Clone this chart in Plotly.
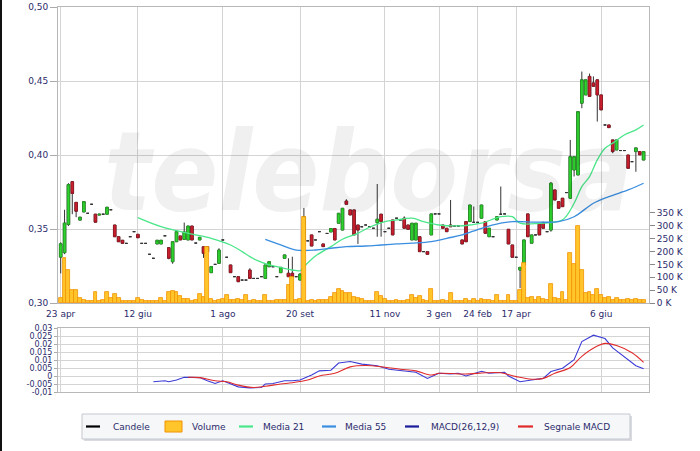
import plotly.graph_objects as go

# ---------------- data ----------------
opens = [.331, .334, .353, .382, .368, .356, .3615, .3606, .3667, .360,
         .3594, .360, .360, .363, .3527, .3448, .3424, .3403, .3448, .3482,
         .3464, .3403, .3403, .3329, .3302, .3399, .3399, .3454, .3374, .3279,
         .3414, .3453, .343, .3426, .352, .3405, .3426, .338, .338, .3205,
         .3261, .3268, .3426, .3309, .3257, .3178, .3178, .3155, .3155, .3223,
         .3166, .3166, .3178, .3166, .3245, .3245, .3178, .3205, .3302, .3201,
         .3201, .3178, .3155, .3426, .342, .346, .3426, .3482, .3399, .347,
         .348, .3503, .3539, .3493, .3689, .3629, .3629, .3527, .3515, .3527,
         .3515, .3505, .3543, .360, .3482, .3505, .3561, .3573, .3561, .3573,
         .3527, .3426, .3426, .3448, .3347, .3347, .346, .3602, .3602, .3527,
         .3505, .3527, .352, .352, .3426, .355, .355, .3545, .3545, .3573,
         .355, .3448, .3448, .3561, .360, .3602, .3498, .3392, .3309, .3223,
         .3257, .3602, .3404, .346, .3534, .3539, .3482, .3493, .3764, .3685,
         .3708, .3746, .3708, .3899, .3865, .435, .4406, .4531, .4487, .4508,
         .4406, .4203, .4203, .4102, .4034, .403, .403, .400, .3955, .4023,
         .4023, .3966]
highs = [.341, .363, .381, .382, .368, .358, .3685, .3606, .3667, .360,
         .360, .360, .3647, .363, .3527, .3448, .3424, .3403, .3448, .3482,
         .3464, .3403, .3403, .3329, .3302, .3424, .3424, .3454, .3374, .3414,
         .3482, .3453, .3543, .352, .352, .3405, .3444, .338, .338, .3246,
         .3261, .337, .3426, .3309, .3257, .3178, .3178, .3155, .3155, .3235,
         .3166, .3166, .3178, .3257, .3279, .3245, .3178, .3241, .3325, .3302,
         .3313, .3178, .3201, .3642, .342, .346, .3426, .3482, .3399, .347,
         .3503, .3505, .3606, .364, .3701, .3629, .3629, .3527, .3515, .3527,
         .3515, .3505, .3804, .360, .3482, .3505, .3561, .3573, .3561, .3585,
         .3527, .3539, .3539, .3448, .3347, .3347, .3602, .3602, .3602, .3527,
         .3505, .3696, .352, .352, .3426, .355, .3662, .3652, .3545, .3662,
         .355, .3505, .3448, .3583, .3787, .3602, .3498, .3392, .3309, .3241,
         .3426, .3602, .346, .346, .3534, .355, .3482, .3818, .3764, .3685,
         .3708, .3746, .4102, .3989, .4293, .4564, .4508, .455, .4531, .4508,
         .4406, .4203, .4203, .4102, .4102, .403, .403, .400, .3955, .4048,
         .4023, .4023]
lows = [.320, .333, .352, .360, .358, .356, .3615, .3606, .3667, .3546,
        .3594, .360, .360, .363, .3448, .3414, .3403, .3403, .3448, .3482,
        .3441, .3403, .3403, .3329, .3302, .3399, .3399, .3454, .3295, .3265,
        .3414, .3426, .343, .3426, .3426, .3405, .3426, .3305, .3347, .3205,
        .3261, .3268, .3426, .3309, .3205, .3178, .3144, .3155, .3155, .3166,
        .3166, .3166, .3178, .3166, .3245, .3245, .3178, .3205, .3302, .3178,
        .3178, .3178, .3155, .3426, .342, .3385, .3426, .3482, .3381, .347,
        .348, .3426, .3539, .3493, .3667, .3595, .346, .3399, .3515, .3527,
        .3515, .3505, .3448, .3448, .3482, .3505, .346, .3573, .3561, .3505,
        .3498, .3426, .3426, .3347, .3347, .3329, .346, .3602, .3602, .3505,
        .3482, .3515, .352, .352, .3399, .3414, .355, .3545, .3545, .3573,
        .3471, .3448, .3448, .3561, .360, .3602, .3399, .3309, .3309, .310,
        .3257, .3448, .3404, .346, .346, .3505, .3482, .3482, .3696, .364,
        .3651, .3746, .3708, .3855, .3865, .4316, .4406, .4396, .4464, .4226,
        .4305, .4203, .4185, .4012, .4034, .403, .403, .391, .3955, .3887,
        .4001, .3966]
closes = [.340, .354, .380, .374, .362, .358, .3685, .3606, .3667, .3546,
          .360, .360, .3647, .363, .3448, .3414, .3403, .3403, .3448, .3482,
          .3441, .3403, .3403, .3329, .3302, .3424, .3424, .3454, .3302, .3414,
          .3482, .3426, .348, .352, .3426, .3405, .3444, .3336, .3347, .3246,
          .3261, .3358, .3426, .3309, .3205, .3178, .3144, .3155, .3155, .3166,
          .3166, .3166, .3178, .3257, .3279, .3245, .3178, .3241, .3325, .3178,
          .3178, .3178, .3195, .3582, .342, .3385, .3426, .3482, .3381, .347,
          .3503, .3426, .3606, .364, .3667, .3595, .346, .3493, .3515, .3527,
          .3515, .3505, .3566, .355, .3482, .3505, .346, .3573, .3561, .3505,
          .3498, .3539, .3539, .3347, .3347, .3329, .3602, .3602, .3602, .3505,
          .3482, .3515, .352, .352, .3399, .3414, .3662, .3545, .3545, .3662,
          .3471, .3505, .3448, .3583, .360, .3602, .3399, .3309, .3309, .3241,
          .3426, .3448, .346, .346, .346, .3505, .3482, .3809, .3696, .364,
          .3651, .3746, .3989, .3989, .4293, .4508, .4508, .4396, .4464, .4406,
          .4305, .4203, .4185, .4023, .4102, .403, .403, .391, .3955, .4048,
          .4001, .4023]
volumes_k = [21, 174, 128, 51, 51, 21, 12, 9, 9, 41,
             9, 10, 41, 21, 36, 18, 9, 9, 7, 6,
             21, 12, 7, 7, 9, 9, 21, 9, 44, 47,
             44, 28, 17, 17, 9, 10, 34, 22, 216, 17,
             9, 10, 17, 33, 10, 10, 17, 10, 30, 9,
             10, 9, 9, 30, 9, 9, 10, 12, 10, 70,
             100, 10, 17, 336, 9, 12, 9, 13, 13, 10,
             25, 38, 53, 45, 40, 38, 25, 20, 17, 9,
             9, 9, 43, 27, 15, 9, 9, 12, 9, 9,
             12, 30, 21, 27, 12, 9, 53, 9, 9, 12,
             9, 38, 8, 8, 9, 17, 9, 17, 9, 17,
             12, 12, 9, 30, 9, 9, 33, 9, 9, 50,
             154, 20, 25, 12, 22, 17, 12, 74, 20, 17,
             42, 10, 193, 152, 300, 128, 37, 42, 30, 54,
             30, 20, 24, 13, 20, 13, 10, 15, 10, 15,
             13, 10]
session_idx = list(range(len(closes)))

ma21_idx = [20, 26, 34, 39, 44, 47, 49, 51, 54, 56, 60, 62, 63, 66, 70, 73, 77, 80,
            84, 87, 91, 94, 98, 103, 106, 109, 114, 117, 119, 124, 130, 133, 135,
            137, 139, 141, 143, 146, 149, 151]
ma21_val = [.3577, .3516, .3466, .3437, .3392, .3347, .3313, .3286, .3257, .3245,
            .3223, .3218, .3245, .3318, .3381, .3431, .3471, .3512, .355, .3561,
            .3573, .355, .3527, .3521, .3527, .3539, .3583, .3583, .3539, .3539,
            .3562, .3674, .3786, .3854, .3967, .4046, .408, .4135, .417, .4203]
ma55_idx = [53, 57, 61, 66, 70, 74, 79, 83, 87, 91, 96, 100, 104, 109, 114, 117,
            124, 129, 133, 138, 142, 147, 151]
ma55_val = [.343, .3392, .3358, .3358, .337, .3381, .3385, .3392, .3399, .3404,
            .3414, .3437, .346, .3505, .3539, .355, .3546, .355, .3583, .3674,
            .3719, .3764, .3809]

macd_idx = [24, 27, 28, 30, 32, 34, 36, 38, 40, 42, 44, 46, 49, 52, 53, 55, 58, 60,
            62, 65, 67, 70, 72, 75, 78, 82, 85, 89, 92, 95, 98, 101, 103, 105, 107,
            109, 111, 115, 116, 119, 122, 125, 127, 130, 133, 135, 138, 141, 143,
            147, 149, 151]
macd_val = [-.0036, -.003, -.0036, -.0025, -.0008, -.001, -.001, -.003, -.0047, -.003,
            -.005, -.0068, -.0074, -.0072, -.005, -.0047, -.003, -.003, -.0025, .0006,
            .0032, .0036, .0081, .0091, .0074, .0064, .0042, .0032, .0023, -.0015,
            .0017, .0013, .0017, .0, .0017, .003, .0017, .0023, .0, -.0036,
            -.0025, -.0015, .0028, .0049, .0102, .0215, .0255, .0234, .0176, .0102,
            .0064, .0045]
signal_idx = [33, 36, 40, 43, 46, 50, 53, 57, 60, 64, 67, 71, 75, 79, 84, 88, 92,
              96, 98, 103, 106, 110, 114, 118, 122, 125, 128, 132, 135, 139, 141,
              144, 148, 151]
signal_val = [-.0008, -.001, -.003, -.0036, -.0057, -.0072, -.0064, -.005, -.0042,
              -.0025, .0, .0017, .0057, .0066, .0055, .0042, .0032, .0006, .0017,
              .0013, .0013, .002, .002, -.0004, -.002, -.0015, .0017, .0053, .0123,
              .0187, .0204, .019, .0145, .0085]

date_tick_idx = [0, 20, 42, 62, 84, 98, 108, 118, 140]
date_tick_lbl = ["23 apr", "12 giu", "1 ago", "20 set", "11 nov", "3 gen", "24 feb", "17 apr", "6 giu"]
price_ticks = [0.30, 0.35, 0.40, 0.45, 0.50]
price_lbl = ["0,30", "0,35", "0,40", "0,45", "0,50"]
vol_ticks = [0, 50, 100, 150, 200, 250, 300, 350]
vol_lbl = ["0 K", "50 K", "100 K", "150 K", "200 K", "250 K", "300 K", "350 K"]
macd_ticks = [-0.01, -0.005, 0, 0.005, 0.01, 0.015, 0.02, 0.025, 0.03]
macd_lbl = ["-0,01", "-0.005", "0", "0.005", "0.01", "0.015", "0.02", "0.025", "0,03"]

legend_names = ["Candele", "Volume", "Media 21", "Media 55", "MACD(26,12,9)", "Segnale MACD"]

# ---------------- styling ----------------
W, H = 700, 451
ML, MR, MT, MB = 58, 51, 7, 59
PW, PH = W - ML - MR, H - MT - MB
FONT = "DejaVu Sans"
TXT = "#2b2b6b"
GRID = "#d4d4d4"
GREEN = "#2ed12e"
RED = "#c8202e"
VOL_FILL = "#ffc52a"
VOL_LINE = "#f39200"
C_MA21 = "#4be68a"
C_MA55 = "#3a8ee0"
C_MACD = "#3b3bd6"
C_SIG = "#e02b2b"


def px_x(px):
    return (px - ML) / PW


def px_y(py):
    return (H - MB - py) / PH


main_bottom = px_y(303)
macd_top = px_y(328)

body_hi = [max(o, c) if o != c else None for o, c in zip(opens, closes)]
body_lo = [min(o, c) if o != c else None for o, c in zip(opens, closes)]
body_open = [o if o != c else None for o, c in zip(opens, closes)]
body_close = [c if o != c else None for o, c in zip(opens, closes)]

fig = go.Figure()

# wicks / dashes (dark)
fig.add_trace(go.Candlestick(
    x=session_idx, open=opens, high=highs, low=lows, close=closes,
    increasing=dict(line=dict(color="#333333", width=1), fillcolor="#333333"),
    decreasing=dict(line=dict(color="#333333", width=1), fillcolor="#333333"),
    whiskerwidth=0, showlegend=False, hoverinfo="skip", xaxis="x", yaxis="y"))
# coloured bodies
fig.add_trace(go.Candlestick(
    x=session_idx, open=body_open, high=body_hi, low=body_lo, close=body_close,
    increasing=dict(line=dict(color="#1fa81f", width=0.6), fillcolor=GREEN),
    decreasing=dict(line=dict(color="#a01020", width=0.6), fillcolor=RED),
    whiskerwidth=0, showlegend=False, hoverinfo="skip", xaxis="x", yaxis="y"))

fig.add_trace(go.Scatter(x=ma21_idx, y=ma21_val, mode="lines", name="Media 21",
                         line=dict(color=C_MA21, width=1.3, shape="spline"),
                         showlegend=False, xaxis="x", yaxis="y"))
fig.add_trace(go.Scatter(x=ma55_idx, y=ma55_val, mode="lines", name="Media 55",
                         line=dict(color=C_MA55, width=1.3, shape="spline"),
                         showlegend=False, xaxis="x", yaxis="y"))

fig.add_trace(go.Bar(x=session_idx, y=volumes_k, name="Volume", width=1.0,
                     marker=dict(color=VOL_FILL, line=dict(color=VOL_LINE, width=0.8)),
                     showlegend=False, xaxis="x", yaxis="y2"))

fig.add_trace(go.Scatter(x=macd_idx, y=macd_val, mode="lines", name="MACD(26,12,9)",
                         line=dict(color=C_MACD, width=1.1),
                         showlegend=False, xaxis="x2", yaxis="y3"))
fig.add_trace(go.Scatter(x=signal_idx, y=signal_val, mode="lines", name="Segnale MACD",
                         line=dict(color=C_SIG, width=1.1, shape="spline"),
                         showlegend=False, xaxis="x2", yaxis="y3"))

xr = [-0.7, 152.4]
tickfont = dict(family=FONT, size=9, color=TXT)

fig.update_layout(
    width=W, height=H,
    margin=dict(l=ML, r=MR, t=MT, b=MB, autoexpand=False),
    paper_bgcolor="white", plot_bgcolor="white",
    showlegend=False, bargap=0, boxgap=0.05,
    font=dict(family=FONT, size=9, color=TXT),
    xaxis=dict(domain=[0, 1], range=xr, anchor="y",
               tickvals=date_tick_idx, ticktext=date_tick_lbl, tickfont=tickfont,
               showgrid=True, gridcolor=GRID, zeroline=False,
               showline=True, linecolor="#b8b8b8", mirror=True,
               ticks="outside", ticklen=2, tickcolor="white",
               rangeslider=dict(visible=False)),
    yaxis=dict(domain=[main_bottom, 1], range=[0.30, 0.50],
               tickvals=price_ticks, ticktext=price_lbl, tickfont=tickfont,
               showgrid=True, gridcolor=GRID, zeroline=False,
               showline=True, linecolor="#b8b8b8", mirror=True,
               ticks="outside", ticklen=7, tickcolor="#aaaaaa"),
    yaxis2=dict(overlaying="y", side="right", anchor="x", range=[0, 1151],
                tickvals=vol_ticks, ticktext=vol_lbl, tickfont=tickfont,
                showgrid=False, zeroline=False, showline=False,
                ticks="outside", ticklen=5, tickcolor="#888888"),
    xaxis2=dict(domain=[0, 1], range=xr, anchor="y3", matches="x",
                tickvals=date_tick_idx, showticklabels=False,
                showgrid=True, gridcolor=GRID, zeroline=False,
                showline=True, linecolor="#b8b8b8", mirror=True, ticks=""),
    yaxis3=dict(domain=[0, macd_top], range=[-0.01, 0.03], anchor="x2",
                tickvals=macd_ticks, ticktext=macd_lbl,
                tickfont=dict(family=FONT, size=8, color=TXT),
                showgrid=True, gridcolor=GRID, zeroline=False,
                showline=True, linecolor="#b8b8b8", mirror=True,
                ticks="outside", ticklen=3, tickcolor="#aaaaaa"),
)

shapes = []
annotations = []

# dark strip on the left edge of the page
shapes.append(dict(type="rect", xref="paper", yref="paper",
                   x0=px_x(0), x1=px_x(2), y0=px_y(451), y1=px_y(0),
                   fillcolor="#111111", line=dict(width=0), layer="above"))

# watermark
annotations.append(dict(xref="paper", yref="paper", x=px_x(368), y=px_y(172),
                        text="<b><i>teleborsa</i></b>", showarrow=False,
                        font=dict(family="DejaVu Sans Condensed", size=110,
                                  color="rgba(0,0,0,0.06)"),
                        xanchor="center", yanchor="middle"))

# legend box (drawn manually to match the compact original)
shapes.append(dict(type="rect", xref="paper", yref="paper",
                   x0=px_x(84), x1=px_x(632), y0=px_y(441), y1=px_y(416),
                   fillcolor="#d9dbe0", line=dict(width=0), layer="above"))
shapes.append(dict(type="rect", xref="paper", yref="paper",
                   x0=px_x(82), x1=px_x(630), y0=px_y(439), y1=px_y(414),
                   fillcolor="#f6f7f9", line=dict(color="#c3c7cf", width=1),
                   layer="above"))
ly = px_y(426.5)
sym_x = [(86, 100), (165, 182), (239, 253), (322, 336), (405, 419), (518, 533)]
txt_x = [111, 189.5, 261, 343, 428.5, 542]
sym_col = ["#000000", None, C_MA21, C_MA55, "#1c1c9a", C_SIG]
for name, (a, b), tx, col in zip(legend_names, sym_x, txt_x, sym_col):
    if col is None:
        shapes.append(dict(type="rect", xref="paper", yref="paper",
                           x0=px_x(a), x1=px_x(b), y0=px_y(432), y1=px_y(421),
                           fillcolor=VOL_FILL, line=dict(color=VOL_LINE, width=1),
                           layer="above"))
    else:
        shapes.append(dict(type="line", xref="paper", yref="paper",
                           x0=px_x(a), x1=px_x(b), y0=ly, y1=ly,
                           line=dict(color=col, width=2.2), layer="above"))
    annotations.append(dict(xref="paper", yref="paper", x=px_x(tx), y=ly,
                            text=name, showarrow=False, xanchor="left",
                            yanchor="middle",
                            font=dict(family=FONT, size=9, color=TXT)))

fig.update_layout(shapes=shapes, annotations=annotations)

fig.write_html("out.html",
               config={"displayModeBar": False},
               post_script="document.body.style.margin='0px';document.body.style.overflow='hidden';")
